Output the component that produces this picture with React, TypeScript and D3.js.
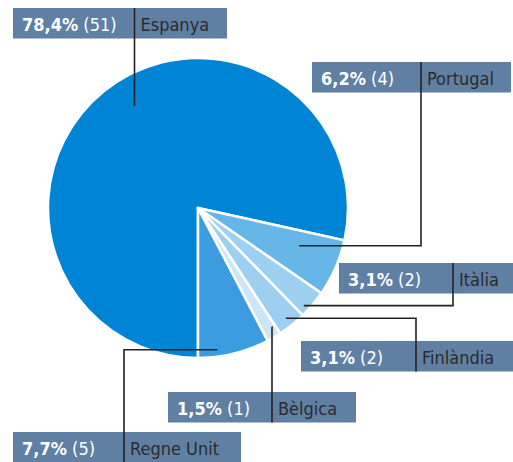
import * as d3 from "d3";
import React, { useEffect, useRef } from "react";

// data
const countries = ["Espanya", "Portugal", "Itàlia", "Finlàndia", "Bèlgica", "Regne Unit"];
const counts = [51, 4, 2, 2, 1, 5];
const percents = ["78,4%", "6,2%", "3,1%", "3,1%", "1,5%", "7,7%"];
const colors = ["#0084d5", "#66b6e7", "#9dd0f0", "#9dd0f0", "#cde6f7", "#3b9de0"];

// label boxes: [x, y, width, dividerX] and where the leader touches the slice
const boxes = [
  [13, 8, 214, 134.5],
  [312, 62, 199, 421],
  [339, 263, 174, 453],
  [301, 341, 212, 416],
  [168, 392, 188, 272],
  [13, 432, 228, 124],
];
const leaderAt = [
  [0.52, 122],
  [0.36, 108],
  [0.73, 144],
  [0.52, 141],
  [0.27, 140],
  [0.72, 143],
];

export default function App() {
  const svgRef = useRef(null);
  useEffect(() => {
    const width = 513;
    const height = 462;
    const cx = 198;
    const cy = 208;
    const r = 150;
    const boxH = 30.5;
    const font = "'DejaVu Sans Condensed', 'DejaVu Sans', sans-serif";
    const svg = d3.select(svgRef.current);
    svg.selectAll("*").remove();
    svg.attr("width", width).attr("height", height);

    const pie = d3
      .pie<number>()
      .sort(null)
      .startAngle(Math.PI)
      .endAngle(3 * Math.PI);
    const arcs = pie(counts);
    const arc = d3.arc<d3.PieArcDatum<number>>().innerRadius(0).outerRadius(r);

    const g = svg.append("g").attr("transform", `translate(${cx},${cy})`);
    g.selectAll("path")
      .data(arcs)
      .join("path")
      .attr("d", arc)
      .attr("fill", (d, i) => colors[i])
      .attr("stroke", "#fff")
      .attr("stroke-width", 2.5)
      .attr("stroke-linejoin", "round");

    //leaders
    arcs.forEach((a, i) => {
      const [bx, by, bw, div] = boxes[i];
      const [t, rr] = leaderAt[i];
      const ang = a.startAngle + (a.endAngle - a.startAngle) * t;
      let ex = cx + rr * Math.sin(ang);
      const ey = cy - rr * Math.cos(ang);
      if (i === 0) ex = div;
      const y1 = Math.min(by, ey);
      const y2 = Math.max(by + boxH, ey);
      const path = d3.path();
      if (ey < by) {
        path.moveTo(ex, ey);
        path.lineTo(div, ey);
        path.lineTo(div, y2);
      } else {
        path.moveTo(div, y1);
        path.lineTo(div, ey);
        path.lineTo(ex, ey);
      }
      svg.append("rect")
        .attr("x", bx)
        .attr("y", by)
        .attr("width", bw)
        .attr("height", boxH)
        .attr("fill", "#5f80a3");
      svg.append("path")
        .attr("d", path.toString())
        .attr("fill", "none")
        .attr("stroke", "#222")
        .attr("stroke-width", 1.6);
      const txt = svg.append("text")
        .attr("x", bx + 9)
        .attr("y", by + 22.5)
        .attr("fill", "#fff")
        .style("font-family", font)
        .style("font-size", "18px");
      txt.append("tspan").attr("font-weight", "bold").text(percents[i]);
      txt.append("tspan").attr("font-weight", "normal").text(` (${counts[i]})`);
      svg.append("text")
        .attr("x", div + 6)
        .attr("y", by + 22.5)
        .attr("fill", "#2b2b2b")
        .style("font-family", font)
        .style("font-size", "18px")
        .text(countries[i]);
    });
  }, []);

  return (
    <svg
      ref={svgRef}
      style={{ position: "absolute", left: 0, top: 0, display: "block" }}
    ></svg>
  );
}
